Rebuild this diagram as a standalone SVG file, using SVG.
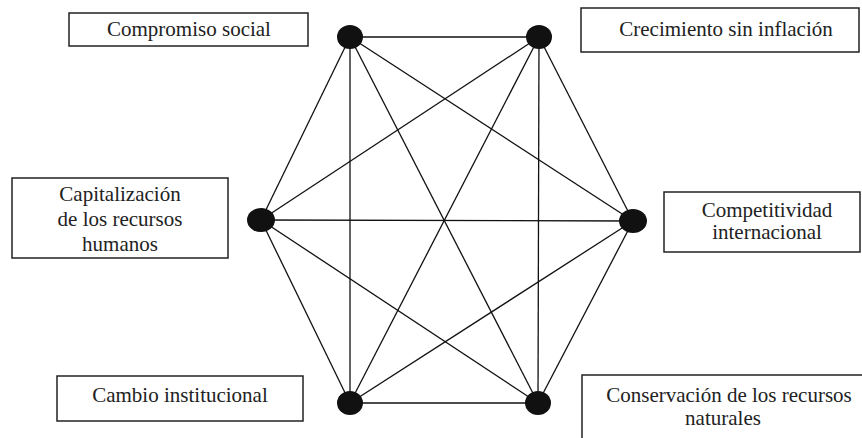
<svg xmlns="http://www.w3.org/2000/svg" width="862" height="438" viewBox="0 0 862 438">
<style>
.box{fill:#fff;stroke:#222;stroke-width:1.5}
.lbl{font-family:"Liberation Serif","Times New Roman","DejaVu Serif",serif;font-size:21px;fill:#222;text-anchor:middle}
.edge{stroke:#111;stroke-width:1.3;fill:none}
.dot{fill:#111}
</style>
<rect width="862" height="438" fill="#fff"/>
<g id="connectors">
<line class="edge" x1="350" y1="37" x2="539" y2="37"/>
<line class="edge" x1="350" y1="37" x2="261" y2="220"/>
<line class="edge" x1="350" y1="37" x2="633" y2="221"/>
<line class="edge" x1="350" y1="37" x2="350" y2="403"/>
<line class="edge" x1="350" y1="37" x2="538" y2="403"/>
<line class="edge" x1="539" y1="37" x2="261" y2="220"/>
<line class="edge" x1="539" y1="37" x2="633" y2="221"/>
<line class="edge" x1="539" y1="37" x2="350" y2="403"/>
<line class="edge" x1="539" y1="37" x2="538" y2="403"/>
<line class="edge" x1="261" y1="220" x2="633" y2="221"/>
<line class="edge" x1="261" y1="220" x2="350" y2="403"/>
<line class="edge" x1="261" y1="220" x2="538" y2="403"/>
<line class="edge" x1="633" y1="221" x2="350" y2="403"/>
<line class="edge" x1="633" y1="221" x2="538" y2="403"/>
<line class="edge" x1="350" y1="403" x2="538" y2="403"/>
</g>
<g id="n-compromiso">
<ellipse class="dot" cx="350" cy="37" rx="13" ry="12"/>
<rect class="box" x="69" y="13" width="239" height="33"/>
<text class="lbl" font-family="Liberation Serif, serif" x="189" y="36">Compromiso social</text>
</g>
<g id="n-crecimiento">
<ellipse class="dot" cx="539" cy="37" rx="13" ry="12"/>
<rect class="box" x="581" y="8" width="278" height="44"/>
<text class="lbl" font-family="Liberation Serif, serif" x="726" y="36">Crecimiento sin inflación</text>
</g>
<g id="n-capitalizacion">
<ellipse class="dot" cx="261" cy="220" rx="14" ry="12"/>
<rect class="box" x="12" y="178" width="216" height="80"/>
<text class="lbl" font-family="Liberation Serif, serif" x="120" y="201">Capitalización</text>
<text class="lbl" font-family="Liberation Serif, serif" x="120" y="226">de los recursos</text>
<text class="lbl" font-family="Liberation Serif, serif" x="120" y="251">humanos</text>
</g>
<g id="n-competitividad">
<ellipse class="dot" cx="633" cy="221" rx="14" ry="12"/>
<rect class="box" x="664" y="192" width="196" height="60"/>
<text class="lbl" font-family="Liberation Serif, serif" x="767" y="217">Competitividad</text>
<text class="lbl" font-family="Liberation Serif, serif" x="767" y="239">internacional</text>
</g>
<g id="n-cambio">
<ellipse class="dot" cx="350" cy="403" rx="13" ry="12"/>
<rect class="box" x="57" y="376" width="246" height="45"/>
<text class="lbl" font-family="Liberation Serif, serif" x="180" y="402">Cambio institucional</text>
</g>
<g id="n-conservacion">
<ellipse class="dot" cx="538" cy="403" rx="13" ry="12"/>
<rect class="box" x="582" y="375" width="290" height="80"/>
<text class="lbl" font-family="Liberation Serif, serif" x="729" y="402">Conservación de los recursos</text>
<text class="lbl" font-family="Liberation Serif, serif" x="723" y="425">naturales</text>
</g>
</svg>
